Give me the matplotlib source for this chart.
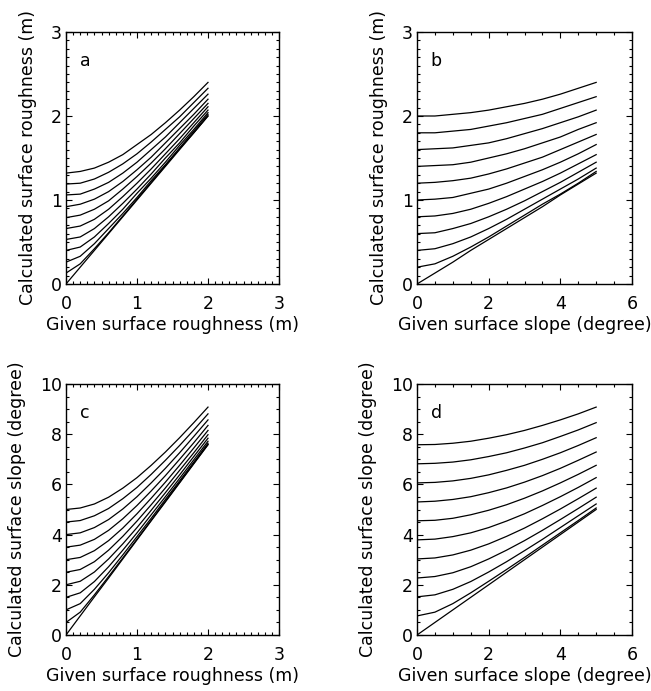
import matplotlib
matplotlib.use("Agg")
import matplotlib.pyplot as plt
from matplotlib.ticker import MultipleLocator

# Given surface roughness (m) and given surface slope (degree) sample points
given_roughness = [0.0, 0.2, 0.4, 0.6, 0.8, 1.0, 1.2, 1.4, 1.6, 1.8, 2.0]
given_slope = [0.0, 0.5, 1.0, 1.5, 2.0, 2.5, 3.0, 3.5, 4.0, 4.5, 5.0]

# Calculated surface roughness (m): row = given roughness, column = given slope
calc_roughness = [
    [0.00, 0.13, 0.26, 0.40, 0.53, 0.66, 0.79, 0.92, 1.06, 1.19, 1.32],
    [0.20, 0.24, 0.33, 0.44, 0.56, 0.69, 0.82, 0.95, 1.07, 1.20, 1.34],
    [0.40, 0.42, 0.48, 0.56, 0.66, 0.77, 0.89, 1.01, 1.13, 1.25, 1.38],
    [0.60, 0.61, 0.66, 0.72, 0.80, 0.89, 0.99, 1.10, 1.21, 1.33, 1.45],
    [0.80, 0.81, 0.84, 0.89, 0.96, 1.04, 1.13, 1.22, 1.32, 1.43, 1.54],
    [1.00, 1.01, 1.03, 1.08, 1.13, 1.20, 1.28, 1.36, 1.45, 1.55, 1.66],
    [1.20, 1.21, 1.23, 1.26, 1.31, 1.37, 1.44, 1.51, 1.60, 1.69, 1.78],
    [1.40, 1.41, 1.42, 1.45, 1.50, 1.55, 1.61, 1.68, 1.75, 1.84, 1.92],
    [1.60, 1.61, 1.62, 1.65, 1.68, 1.73, 1.79, 1.85, 1.92, 1.99, 2.07],
    [1.80, 1.80, 1.82, 1.84, 1.88, 1.92, 1.97, 2.02, 2.09, 2.16, 2.23],
    [2.00, 2.00, 2.02, 2.04, 2.07, 2.11, 2.15, 2.20, 2.26, 2.33, 2.40],
]

# Calculated surface slope (degree): row = given roughness, column = given slope
calc_slope = [
    [0.00, 0.50, 1.00, 1.50, 2.00, 2.50, 3.00, 3.50, 4.00, 4.50, 5.00],
    [0.76, 0.91, 1.25, 1.68, 2.14, 2.61, 3.09, 3.58, 4.07, 4.56, 5.06],
    [1.52, 1.60, 1.82, 2.13, 2.51, 2.92, 3.36, 3.81, 4.28, 4.75, 5.22],
    [2.27, 2.33, 2.48, 2.72, 3.03, 3.38, 3.76, 4.17, 4.60, 5.04, 5.49],
    [3.03, 3.07, 3.19, 3.38, 3.63, 3.93, 4.26, 4.63, 5.02, 5.43, 5.85],
    [3.79, 3.82, 3.92, 4.07, 4.28, 4.54, 4.83, 5.16, 5.51, 5.88, 6.27],
    [4.55, 4.57, 4.65, 4.79, 4.97, 5.19, 5.45, 5.74, 6.06, 6.40, 6.76],
    [5.30, 5.33, 5.40, 5.51, 5.67, 5.86, 6.09, 6.35, 6.64, 6.96, 7.29],
    [6.06, 6.08, 6.14, 6.24, 6.38, 6.56, 6.76, 7.00, 7.26, 7.55, 7.86],
    [6.82, 6.84, 6.89, 6.98, 7.11, 7.26, 7.45, 7.66, 7.91, 8.17, 8.46],
    [7.58, 7.59, 7.64, 7.72, 7.84, 7.98, 8.15, 8.35, 8.57, 8.81, 9.08],
]

panel_letters = ["a", "b", "c", "d"]
x_labels = ["Given surface roughness (m)", "Given surface slope (degree)",
            "Given surface roughness (m)", "Given surface slope (degree)"]
y_labels = ["Calculated surface roughness (m)", "Calculated surface roughness (m)",
            "Calculated surface slope (degree)", "Calculated surface slope (degree)"]

plt.rcParams["font.family"] = ["DejaVu Sans"]
FS = 12.5

fig = plt.figure(figsize=(6.51, 6.91), dpi=100)
W, H = 651.0, 691.0
boxes = [
    (66, 32, 279, 284),
    (417, 32, 632, 284),
    (66, 384, 279, 635),
    (417, 384, 632, 635),
]
axes = []
for (l, t, r, b) in boxes:
    axes.append(fig.add_axes([l / W, 1 - b / H, (r - l) / W, (b - t) / H]))

nr = len(given_roughness)
ns = len(given_slope)

# a: calculated roughness vs given roughness, one curve per given slope
ax = axes[0]
for k in range(ns):
    ax.plot(given_roughness, [calc_roughness[j][k] for j in range(nr)], color="black", lw=0.9)
ax.set_xlim(0, 3); ax.set_ylim(0, 3)
ax.xaxis.set_major_locator(MultipleLocator(1)); ax.xaxis.set_minor_locator(MultipleLocator(0.1))
ax.yaxis.set_major_locator(MultipleLocator(1)); ax.yaxis.set_minor_locator(MultipleLocator(0.1))

# b: calculated roughness vs given slope, one curve per given roughness
ax = axes[1]
for j in range(nr):
    ax.plot(given_slope, calc_roughness[j], color="black", lw=0.9)
ax.set_xlim(0, 6); ax.set_ylim(0, 3)
ax.xaxis.set_major_locator(MultipleLocator(2)); ax.xaxis.set_minor_locator(MultipleLocator(0.5))
ax.yaxis.set_major_locator(MultipleLocator(1)); ax.yaxis.set_minor_locator(MultipleLocator(0.1))

# c: calculated slope vs given roughness, one curve per given slope
ax = axes[2]
for k in range(ns):
    ax.plot(given_roughness, [calc_slope[j][k] for j in range(nr)], color="black", lw=0.9)
ax.set_xlim(0, 3); ax.set_ylim(0, 10)
ax.xaxis.set_major_locator(MultipleLocator(1)); ax.xaxis.set_minor_locator(MultipleLocator(0.1))
ax.yaxis.set_major_locator(MultipleLocator(2)); ax.yaxis.set_minor_locator(MultipleLocator(0.5))

# d: calculated slope vs given slope, one curve per given roughness
ax = axes[3]
for j in range(nr):
    ax.plot(given_slope, calc_slope[j], color="black", lw=0.9)
ax.set_xlim(0, 6); ax.set_ylim(0, 10)
ax.xaxis.set_major_locator(MultipleLocator(2)); ax.xaxis.set_minor_locator(MultipleLocator(0.5))
ax.yaxis.set_major_locator(MultipleLocator(2)); ax.yaxis.set_minor_locator(MultipleLocator(0.5))

for ax, letter, xl, yl in zip(axes, panel_letters, x_labels, y_labels):
    for s in ax.spines.values():
        s.set_linewidth(1.0)
    ax.tick_params(which="both", direction="in", top=True, right=True, width=0.8)
    ax.tick_params(which="major", length=4)
    ax.tick_params(which="minor", length=2)
    ax.tick_params(axis="x", which="major", pad=8, labelsize=FS)
    ax.tick_params(axis="y", which="major", pad=3, labelsize=FS)
    ax.set_xlabel(xl, fontsize=FS, labelpad=2)
    ax.set_ylabel(yl, fontsize=FS, labelpad=10)
    ax.text(0.09, 0.885, letter, transform=ax.transAxes, fontsize=FS,
            ha="center", va="center")

fig.savefig("out.png", dpi=100, facecolor="white")
